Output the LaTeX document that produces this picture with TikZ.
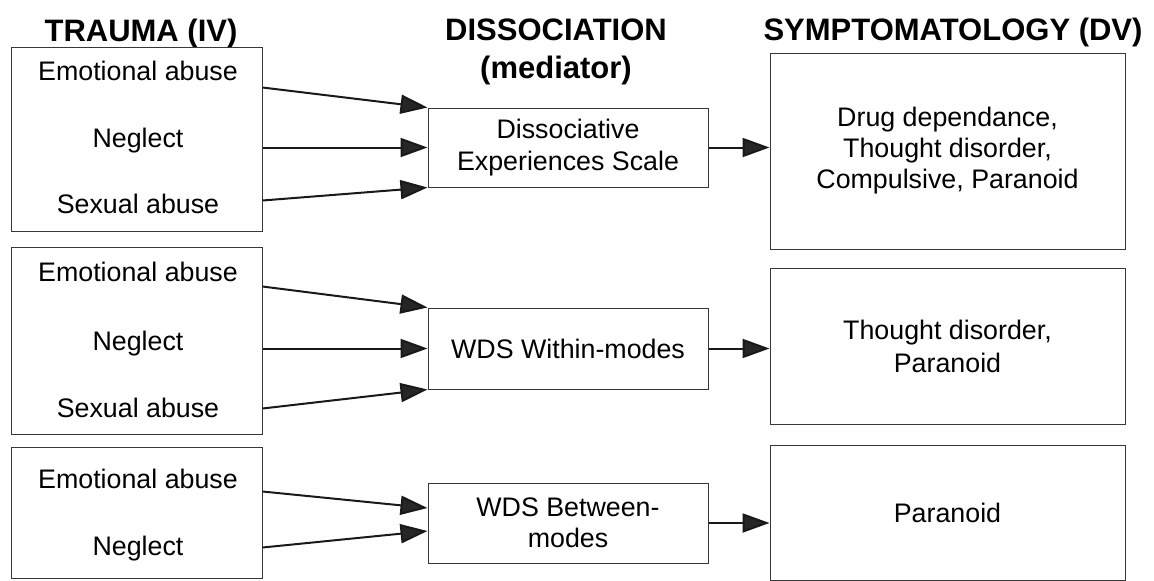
\documentclass[tikz,border=0pt]{standalone}
\usepackage{fontspec}
\setmainfont{Liberation Sans}
\usetikzlibrary{arrows.meta}

\begin{document}
\begin{tikzpicture}[
  x=1pt, y=-1pt,
  frame/.style={draw=black!78, line width=1pt, rectangle, inner sep=0pt},
  body/.style={font=\fontsize{26.8}{31}\selectfont, align=center},
  head/.style={font=\fontsize{31}{37}\selectfont\bfseries, anchor=base, inner sep=0pt},
  item/.style={body, anchor=base, inner sep=0pt},
  link/.style={line width=2pt, draw=black!90,
    -{Triangle[length=27pt,width=19pt,fill=black!85]}},
]
\fill[white] (0,0) rectangle (1154,581);
\useasboundingbox (0,0) rectangle (1154,581);

% column headings
\node[head] (hIV) at (141,41) {TRAUMA (IV)};
\node[head] (hMa) at (556,40) {DISSOCIATION};
\node[head] (hMb) at (556,78) {(mediator)};
\node[head] (hDV) at (953,40) {SYMPTOMATOLOGY (DV)};

% trauma boxes
\node[frame, minimum width=251pt, minimum height=184pt] (L1) at (136.5,139) {};
\node[frame, minimum width=251pt, minimum height=187pt] (L2) at (136.5,340.5) {};
\node[frame, minimum width=251pt, minimum height=131pt] (L3) at (136.5,512.5) {};

\node[item] (L1a) at (138,80)  {Emotional abuse};
\node[item] (L1b) at (138,147) {Neglect};
\node[item] (L1c) at (138,213) {Sexual abuse};
\node[item] (L2a) at (138,281) {Emotional abuse};
\node[item] (L2b) at (138,350) {Neglect};
\node[item] (L2c) at (138,417) {Sexual abuse};
\node[item] (L3a) at (138,488) {Emotional abuse};
\node[item] (L3b) at (138,555) {Neglect};

% mediator boxes
\node[frame, body, minimum width=280pt, minimum height=79pt] (M1) at (568,147.5)
  {Dissociative\\[1pt]Experiences Scale};
\node[frame, body, minimum width=280pt, minimum height=81pt] (M2) at (568,348.5)
  {WDS Within-modes};
\node[frame, body, minimum width=280pt, minimum height=80pt] (M3) at (568,523)
  {WDS Between-\\modes};

% symptom boxes
\node[frame, body, minimum width=355pt, minimum height=196pt] (D1) at (947.5,151)
  {Drug dependance,\\Thought disorder,\\Compulsive, Paranoid};
\node[frame, body, minimum width=355pt, minimum height=156pt] (D2) at (947.5,346)
  {Thought disorder,\\[2pt]Paranoid};
\node[frame, body, minimum width=355pt, minimum height=135pt] (D3) at (947.5,512.5)
  {Paranoid};

% trauma -> mediator
\draw[link] ([yshift=-41pt]L1.north east) -- (M1.north west);
\draw[link] ([yshift=-101pt]L1.north east) -- (M1.west);
\draw[link] ([yshift=-154pt]L1.north east) -- (M1.south west);

\draw[link] ([yshift=-40pt]L2.north east) -- (M2.north west);
\draw[link] ([yshift=-102pt]L2.north east) -- (M2.west);
\draw[link] ([yshift=-162pt]L2.north east) -- (M2.south west);

\draw[link] ([yshift=-45pt]L3.north east) -- ([yshift=15pt]M3.west);
\draw[link] ([yshift=-101pt]L3.north east) -- ([yshift=-8pt]M3.west);

% mediator -> symptoms
\draw[link] (M1.east) -- (M1.east -| D1.west);
\draw[link] (M2.east) -- (M2.east -| D2.west);
\draw[link] (M3.east) -- (M3.east -| D3.west);
\end{tikzpicture}
\end{document}
